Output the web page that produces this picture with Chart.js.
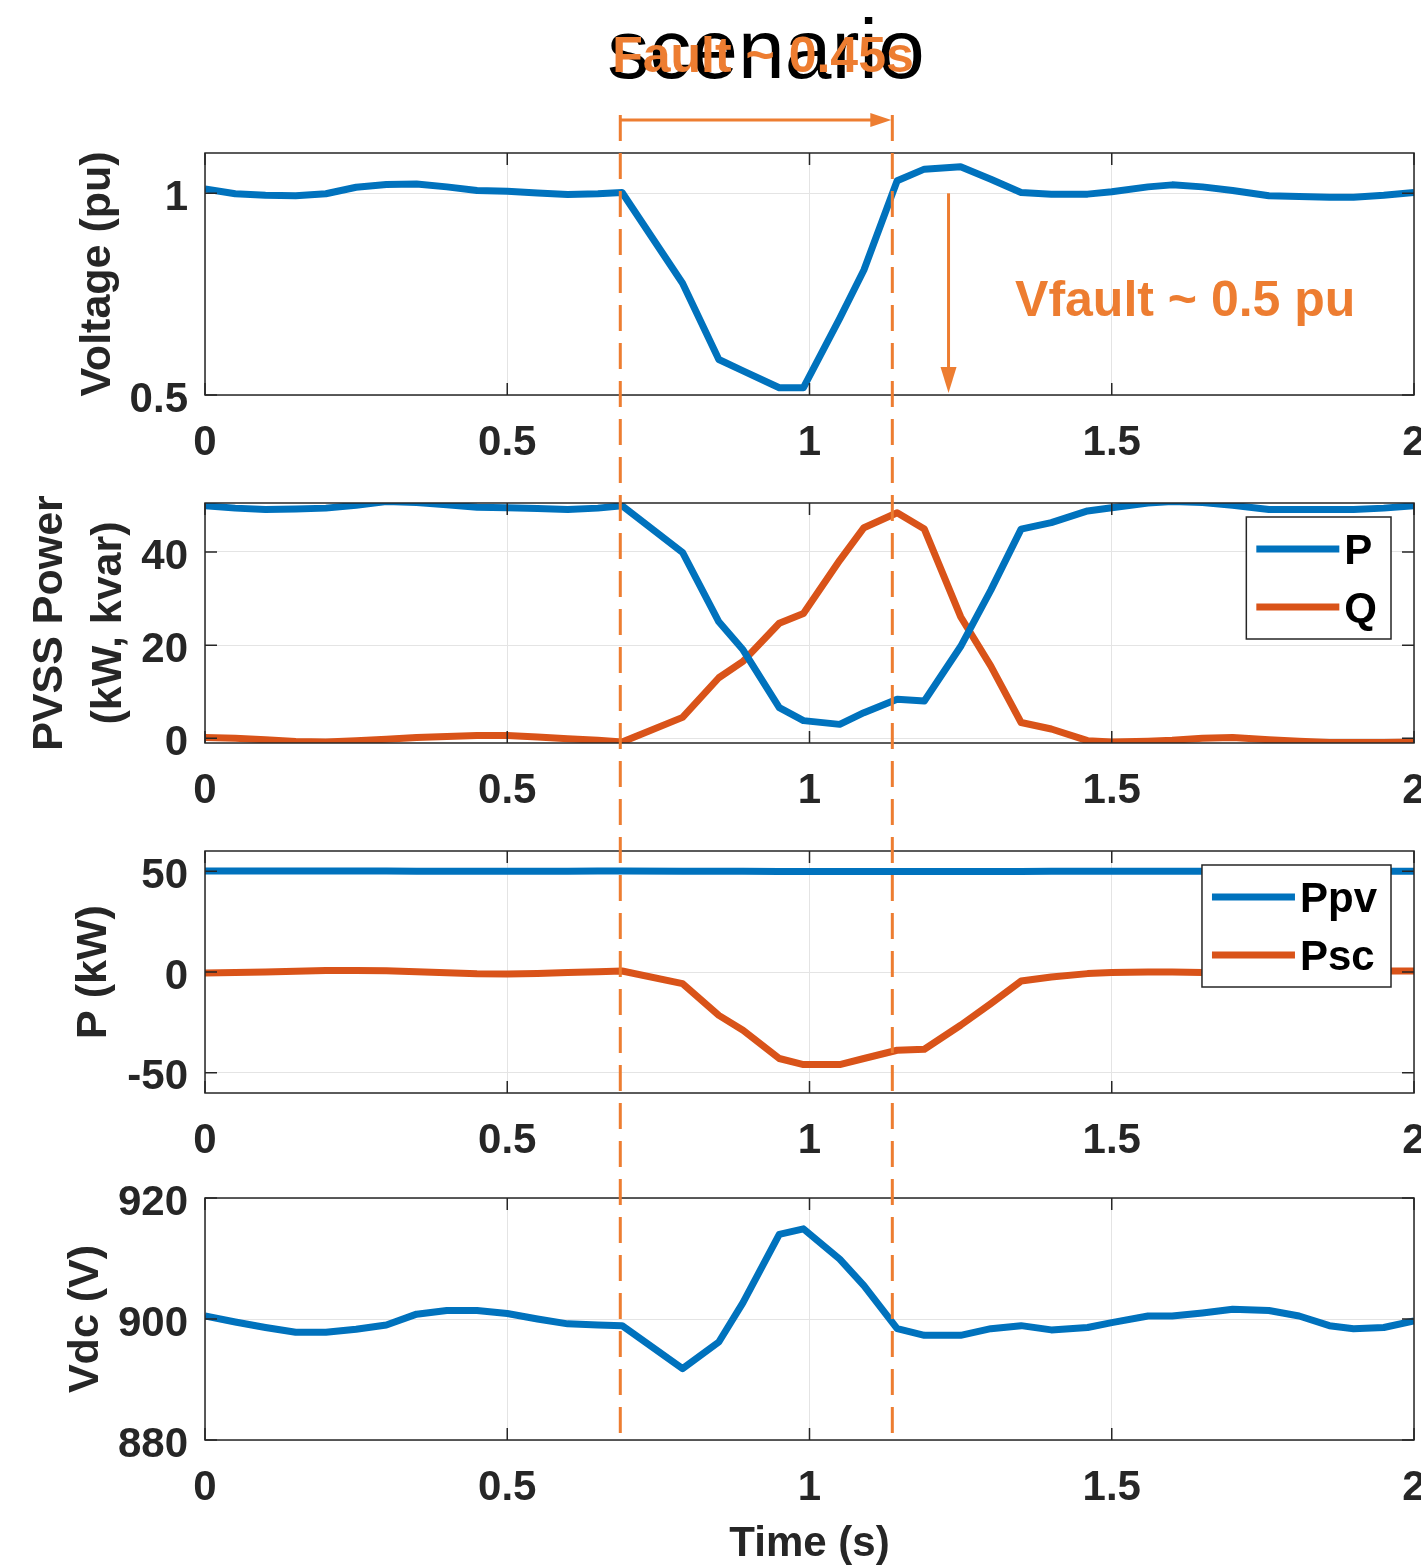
<!DOCTYPE html>
<html>
<head>
<meta charset="utf-8">
<script src="https://cdn.jsdelivr.net/npm/chart.js@4.4.1/dist/chart.umd.min.js"></script>
<style>
    html, body { margin: 0; padding: 0; background: #fff; overflow: hidden; }
    #page { position: relative; width: 1421px; height: 1568px; overflow: hidden; background: #fff; }
    #page canvas { position: absolute; left: 0; }
</style>
</head>
<body>
<div id="page">
    <canvas id="chartVoltage"></canvas>
    <canvas id="chartPvss"></canvas>
    <canvas id="chartPower"></canvas>
    <canvas id="chartVdc"></canvas>
    <canvas id="overlay" width="1421" height="1568" style="top:0"></canvas>
</div>
<script>
// Datos (tiempo en s)
const time = [0, 0.05, 0.1, 0.15, 0.2, 0.25, 0.3, 0.35, 0.4, 0.45, 0.5, 0.55, 0.6, 0.65, 0.69,
    0.79, 0.85, 0.89, 0.95, 0.99, 1.05, 1.09, 1.145, 1.19, 1.25, 1.30, 1.35, 1.40, 1.46, 1.50,
    1.56, 1.60, 1.65, 1.70, 1.76, 1.81, 1.86, 1.90, 1.95, 2.0];

const voltage = [1.011, 0.999, 0.995, 0.994, 0.999, 1.015, 1.022, 1.023, 1.016, 1.007, 1.005, 1.001, 0.997, 0.999, 1.002,
    0.777, 0.588, 0.560, 0.518, 0.518, 0.690, 0.810, 1.031, 1.060, 1.066, 1.035, 1.002, 0.998, 0.998, 1.004,
    1.016, 1.021, 1.016, 1.007, 0.994, 0.992, 0.990, 0.990, 0.995, 1.002];

const pvssP = [49.9, 49.4, 49.1, 49.2, 49.4, 50.0, 50.8, 50.6, 50.1, 49.6, 49.5, 49.3, 49.1, 49.4, 49.9,
    39.9, 25.0, 19.0, 6.6, 3.8, 3.0, 5.5, 8.4, 8.0, 19.7, 31.8, 44.9, 46.3, 48.8, 49.5,
    50.5, 50.8, 50.6, 50.0, 49.1, 49.1, 49.1, 49.1, 49.4, 49.9];

const pvssQ = [0.2, 0.0, -0.3, -0.7, -0.8, -0.5, -0.2, 0.2, 0.4, 0.6, 0.6, 0.3, -0.1, -0.4, -0.8,
    4.5, 13.0, 16.5, 24.7, 26.8, 38.2, 45.2, 48.4, 44.9, 26.1, 15.5, 3.4, 2.0, -0.5, -0.8,
    -0.6, -0.4, 0.0, 0.2, -0.3, -0.6, -0.9, -0.9, -0.9, -0.8];

const ppv = [50.1, 50.1, 50.1, 50.1, 50.1, 50.1, 50.1, 50.0, 50.0, 50.0, 49.9, 49.9, 50.0, 50.1, 50.1,
    50.0, 50.0, 49.9, 49.8, 49.8, 49.8, 49.8, 49.8, 49.8, 49.8, 49.8, 49.8, 49.9, 49.9, 50.0,
    50.0, 50.0, 50.0, 50.0, 50.0, 50.0, 50.0, 50.0, 49.9, 49.9];

const psc = [-0.5, -0.3, 0.0, 0.4, 0.7, 0.8, 0.6, 0.1, -0.4, -0.9, -1.0, -0.7, -0.3, 0.1, 0.5,
    -5.8, -21.5, -28.9, -42.9, -45.9, -45.9, -42.9, -38.8, -38.3, -26.4, -15.7, -4.5, -2.5, -0.8, -0.2,
    0.0, 0.0, -0.3, -0.5, -0.4, 0.0, 0.3, 0.4, 0.5, 0.5];

const vdc = [900.5, 899.5, 898.6, 897.8, 897.8, 898.3, 899.0, 900.8, 901.4, 901.4, 900.9, 900.0, 899.2, 899.0, 898.9,
    891.8, 896.2, 902.7, 914.0, 914.9, 909.9, 905.5, 898.4, 897.3, 897.3, 898.4, 898.9, 898.2, 898.6, 899.4,
    900.5, 900.5, 901.0, 901.6, 901.4, 900.5, 898.9, 898.4, 898.6, 899.7];

const timeTicks = [0, 0.5, 1, 1.5, 2];
const voltageTicks = [0.5, 1];
const pvssTicks = [0, 20, 40];
const powerTicks = [-50, 0, 50];
const vdcTicks = [880, 900, 920];

const faultStart = 0.687;
const faultEnd = 1.137;
const vfaultArrowTime = 1.23;
const vfaultLabelPos = { t: 1.34, v: 0.73 };

const BLUE = '#0072BD';
const RED = '#D95319';
const ORANGE = '#ED7D31';
const AXIS = '#262626';
const FONT = '"Liberation Sans", Arial, sans-serif';

Chart.defaults.font.family = FONT;
Chart.defaults.animation = false;

// Marco, marcas de eje hacia dentro y leyenda tipo MATLAB
const matlabAxes = {
    id: 'matlabAxes',
    afterDraw(chart, args, opts) {
        const { ctx, chartArea: a, scales: { x, y } } = chart;
        ctx.save();
        ctx.strokeStyle = AXIS;
        ctx.lineWidth = 1.5;
        ctx.strokeRect(a.left, a.top, a.width, a.height);
        ctx.beginPath();
        x.ticks.forEach(t => {
            const px = x.getPixelForValue(t.value);
            ctx.moveTo(px, a.bottom); ctx.lineTo(px, a.bottom - 12);
            ctx.moveTo(px, a.top); ctx.lineTo(px, a.top + 12);
        });
        y.ticks.forEach(t => {
            const py = y.getPixelForValue(t.value);
            ctx.moveTo(a.left, py); ctx.lineTo(a.left + 12, py);
            ctx.moveTo(a.right, py); ctx.lineTo(a.right - 12, py);
        });
        ctx.stroke();

        if (opts.legend) {
            const sets = chart.data.datasets;
            ctx.font = 'bold 42px ' + FONT;
            const textW = Math.max(...sets.map(d => ctx.measureText(d.label).width));
            const lineLen = 83, padL = 10, gap = 5, padR = 14, rowH = 58;
            const w = padL + lineLen + gap + textW + padR;
            const h = 122;
            const left = a.right - 23 - w;
            const top = a.top + 14;
            ctx.fillStyle = '#fff';
            ctx.fillRect(left, top, w, h);
            ctx.strokeRect(left, top, w, h);
            sets.forEach((d, i) => {
                const yy = top + 32 + i * rowH;
                ctx.strokeStyle = d.borderColor;
                ctx.lineWidth = 7;
                ctx.beginPath();
                ctx.moveTo(left + padL, yy);
                ctx.lineTo(left + padL + lineLen, yy);
                ctx.stroke();
                ctx.fillStyle = '#000';
                ctx.textBaseline = 'middle';
                ctx.textAlign = 'left';
                ctx.fillText(d.label, left + padL + lineLen + gap, yy + 3);
            });
        }
        ctx.restore();
    }
};

const panels = [
    { id: 'chartVoltage', top: 93, plotH: 242, axisH: 90, min: 0.5, max: 1.1, ticks: voltageTicks,
      title: 'Voltage (pu)', titlePad: 72, lineHeight: 1.2, legend: false,
      series: [{ label: 'V', values: voltage, color: BLUE }] },
    { id: 'chartPvss', top: 443, plotH: 240, axisH: 90, min: -1, max: 50.5, ticks: pvssTicks,
      title: ['PVSS Power', '(kW, kvar)'], titlePad: 21, lineHeight: 1.36, legend: true,
      series: [{ label: 'P', values: pvssP, color: BLUE }, { label: 'Q', values: pvssQ, color: RED }] },
    { id: 'chartPower', top: 791, plotH: 242, axisH: 90, min: -60, max: 60, ticks: powerTicks,
      title: 'P (kW)', titlePad: 68, lineHeight: 1.2, legend: true,
      series: [{ label: 'Ppv', values: ppv, color: BLUE }, { label: 'Psc', values: psc, color: RED }] },
    { id: 'chartVdc', top: 1138, plotH: 242, axisH: 130, min: 880, max: 920, ticks: vdcTicks,
      title: 'Vdc (V)', titlePad: 60, lineHeight: 1.2, legend: false, xTitle: 'Time (s)',
      series: [{ label: 'Vdc', values: vdc, color: BLUE }] }
];

const charts = panels.map(p => {
    const canvas = document.getElementById(p.id);
    const height = 60 + p.plotH + p.axisH;
    canvas.width = 1480;
    canvas.height = height;
    canvas.style.width = '1480px';
    canvas.style.height = height + 'px';
    canvas.style.top = p.top + 'px';

    return new Chart(canvas, {
        type: 'line',
        data: {
            datasets: p.series.map(s => ({
                label: s.label,
                data: time.map((t, i) => ({ x: t, y: s.values[i] })),
                borderColor: s.color,
                backgroundColor: s.color,
                borderWidth: 7,
                pointRadius: 0,
                tension: 0,
                borderJoinStyle: 'round',
                fill: false
            }))
        },
        options: {
            responsive: false,
            maintainAspectRatio: false,
            events: [],
            layout: { padding: { top: 60, right: 66, bottom: 0, left: 0 } },
            plugins: {
                legend: { display: false },
                tooltip: { enabled: false },
                matlabAxes: { legend: p.legend }
            },
            scales: {
                x: {
                    type: 'linear',
                    min: 0,
                    max: 2,
                    afterBuildTicks: scale => { scale.ticks = timeTicks.map(v => ({ value: v })); },
                    afterFit: scale => { scale.height = p.axisH; },
                    grid: { color: '#e4e4e4', lineWidth: 1, drawTicks: false },
                    border: { display: false },
                    ticks: {
                        autoSkip: false,
                        maxRotation: 0,
                        padding: 23,
                        color: AXIS,
                        font: { size: 42, weight: 'bold' },
                        callback: v => String(v)
                    },
                    title: {
                        display: !!p.xTitle,
                        text: p.xTitle || '',
                        color: AXIS,
                        font: { size: 42, weight: 'bold' },
                        padding: { top: 0, bottom: 0 }
                    }
                },
                y: {
                    type: 'linear',
                    min: p.min,
                    max: p.max,
                    afterBuildTicks: scale => { scale.ticks = p.ticks.map(v => ({ value: v })); },
                    afterFit: scale => { scale.width = 205; },
                    grid: { color: '#e4e4e4', lineWidth: 1, drawTicks: false },
                    border: { display: false },
                    ticks: {
                        padding: 17,
                        labelOffset: 5,
                        color: AXIS,
                        font: { size: 42, weight: 'bold' },
                        callback: v => String(v)
                    },
                    title: {
                        display: true,
                        text: p.title,
                        color: AXIS,
                        font: { size: 43, weight: 'bold', lineHeight: p.lineHeight },
                        padding: { top: p.titlePad, bottom: 0 }
                    }
                }
            }
        },
        plugins: [matlabAxes]
    });
});

// Lineas de falla, flechas y textos sobre todas las graficas
function drawOverlay() {
    const ctx = document.getElementById('overlay').getContext('2d');
    const first = charts[0];
    const last = charts[charts.length - 1];
    const offsetTop = c => parseFloat(c.canvas.style.top);
    const xs = first.scales.x;
    const ys = first.scales.y;
    const x0 = xs.getPixelForValue(faultStart);
    const x1 = xs.getPixelForValue(faultEnd);
    const yEnd = last.chartArea.bottom + offsetTop(last);

    ctx.save();
    ctx.strokeStyle = ORANGE;
    ctx.fillStyle = ORANGE;
    ctx.lineWidth = 3;

    ctx.setLineDash([26, 12]);
    [x0, x1].forEach(x => {
        ctx.beginPath();
        ctx.moveTo(x, 115);
        ctx.lineTo(x, yEnd);
        ctx.stroke();
    });
    ctx.setLineDash([]);

    // flecha horizontal de duracion
    const ya = 120;
    ctx.beginPath();
    ctx.moveTo(x0, ya);
    ctx.lineTo(x1 - 12, ya);
    ctx.stroke();
    ctx.beginPath();
    ctx.moveTo(x1 - 1, ya);
    ctx.lineTo(x1 - 22, ya - 7);
    ctx.lineTo(x1 - 22, ya + 7);
    ctx.closePath();
    ctx.fill();

    // flecha vertical Vfault
    const xv = xs.getPixelForValue(vfaultArrowTime);
    const yv0 = ys.getPixelForValue(1.0) + offsetTop(first);
    const yv1 = ys.getPixelForValue(0.5) + offsetTop(first) - 2;
    ctx.beginPath();
    ctx.moveTo(xv, yv0);
    ctx.lineTo(xv, yv1 - 15);
    ctx.stroke();
    ctx.beginPath();
    ctx.moveTo(xv, yv1);
    ctx.lineTo(xv - 8, yv1 - 26);
    ctx.lineTo(xv + 8, yv1 - 26);
    ctx.closePath();
    ctx.fill();

    ctx.font = 'bold 50px ' + FONT;
    ctx.textAlign = 'left';
    ctx.textBaseline = 'middle';
    ctx.fillText('Vfault ~ 0.5 pu', xs.getPixelForValue(vfaultLabelPos.t),
        ys.getPixelForValue(vfaultLabelPos.v) + offsetTop(first));

    // titulos superpuestos
    ctx.textAlign = 'center';
    ctx.textBaseline = 'alphabetic';
    ctx.fillStyle = '#000';
    ctx.font = '84px ' + FONT;
    ctx.fillText('scenario', 766, 78);
    ctx.fillStyle = ORANGE;
    ctx.font = 'bold 50px ' + FONT;
    ctx.fillText('Fault ~ 0.45s', 763, 72);
    ctx.restore();
}

drawOverlay();
</script>
</body>
</html>
